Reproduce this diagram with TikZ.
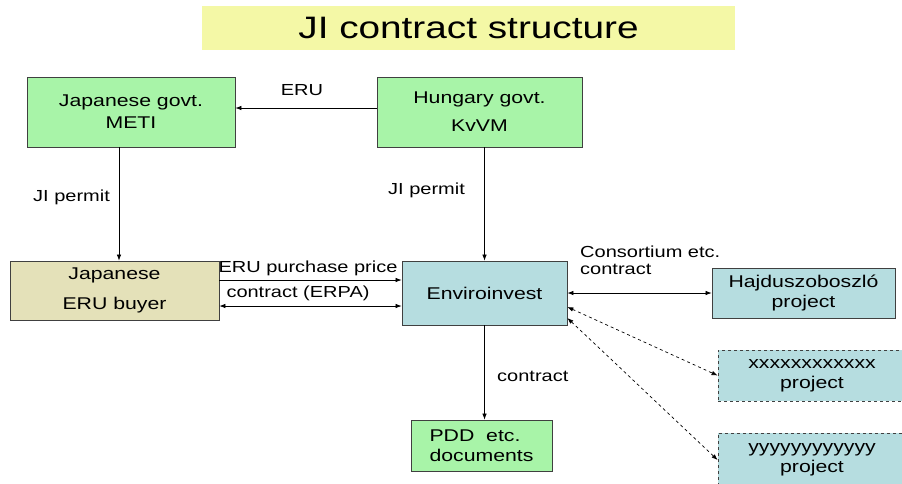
\documentclass[tikz,border=0pt]{standalone}
\usepackage{fontspec}
\setmainfont{Liberation Sans}[FakeStretch=1.25]
\usepackage{tikz}
\usetikzlibrary{arrows.meta}
\definecolor{boxgreen}{HTML}{A8F4A8}
\definecolor{boxbeige}{HTML}{E4E1B9}
\definecolor{boxblue}{HTML}{B6DDE0}
\definecolor{titleyellow}{HTML}{F4F8A6}
\tikzstyle{box} = [draw=black!75, line width=0.8pt, inner sep=0pt, align=center, font=\fontsize{17}{20}\selectfont]
\tikzstyle{lbl} = [inner sep=0pt, font=\fontsize{16}{17}\selectfont]
\tikzstyle{arr} = [-{Latex[length=6pt,width=4.5pt]}, line width=0.7pt]
\tikzstyle{darr} = [{Latex[length=6pt,width=4.5pt]}-{Latex[length=6pt,width=4.5pt]}, line width=0.7pt]

\begin{document}
\begin{tikzpicture}[x=1pt,y=-1pt]
			\useasboundingbox (0,0) rectangle (902,483);
			\node[fill=titleyellow, minimum width=533pt, minimum height=44pt, inner sep=0pt, font=\fontsize{31}{31}\selectfont] (title) at (468.5,28) {JI contract structure};
			\node[box, fill=boxgreen, minimum width=208pt, minimum height=70pt] (meti) at (131,112) {Japanese govt.\\[2pt] METI};
			\node[box, fill=boxgreen, minimum width=205pt, minimum height=70pt] (hung) at (479.5,112) {Hungary govt.\\[8pt] KvVM};
			\node[box, fill=boxbeige, minimum width=209pt, minimum height=59pt] (buyer) at (114.5,290.5) {Japanese\\[10pt] ERU buyer};
			\node[box, fill=boxblue, minimum width=165pt, minimum height=64pt] (envi) at (484.5,293) {Enviroinvest};
			\node[box, fill=boxblue, minimum width=183pt, minimum height=50pt] (hajdu) at (803.5,293) {Hajduszoboszló\\project};
			\node[box, fill=boxblue, dashed, minimum width=188pt, minimum height=51pt] (xproj) at (812,375.5) {xxxxxxxxxxxx\\project};
			\node[box, fill=boxblue, dashed, minimum width=188pt, minimum height=54pt] (yproj) at (812,460) {yyyyyyyyyyyy\\project};
			\node[box, fill=boxgreen, align=left, minimum width=141pt, minimum height=51pt] (pdd) at (481.5,445.5) {PDD\ \ etc.\\documents};
			% connectors
			\draw[arr] ([yshift=4]hung.west) coordinate (h1) -- (h1 -| meti.east);
			\draw[arr] ([xshift=-12]meti.south) coordinate (m1) -- (m1 |- buyer.north);
			\draw[arr] (envi.north |- hung.south) -- (envi.north);
			\draw[arr] ([yshift=10.5]buyer.east) coordinate (b1) -- (b1 -| envi.west);
			\draw[darr] ([yshift=-15.5]buyer.east) coordinate (b2) -- (b2 -| envi.west);
			\draw[darr] (envi.east) -- (hajdu.west);
			\draw[darr, dashed] ([yshift=-14]envi.east) -- (xproj.west);
			\draw[darr, dashed] ([yshift=-25]envi.east) -- (yproj.west);
			\draw[arr] (envi.south) -- (envi.south |- pdd.north);
			% labels
			\node[lbl] (lEru) at (302,90) {ERU};
			\node[lbl, anchor=west] (lPermitA) at (33,197) {JI permit};
			\node[lbl, anchor=west] (lPermitB) at (388,190) {JI permit};
			\node[lbl] (lPrice) at (308,268) {ERU purchase price};
			\node[lbl] (lErpa) at (298,293) {contract (ERPA)};
			\node[lbl, anchor=north west, align=left] (lCons) at (580,246) {Consortium etc.\\contract};
			\node[lbl, anchor=west] (lContract) at (497,376) {contract};
		\end{tikzpicture}
\end{document}
